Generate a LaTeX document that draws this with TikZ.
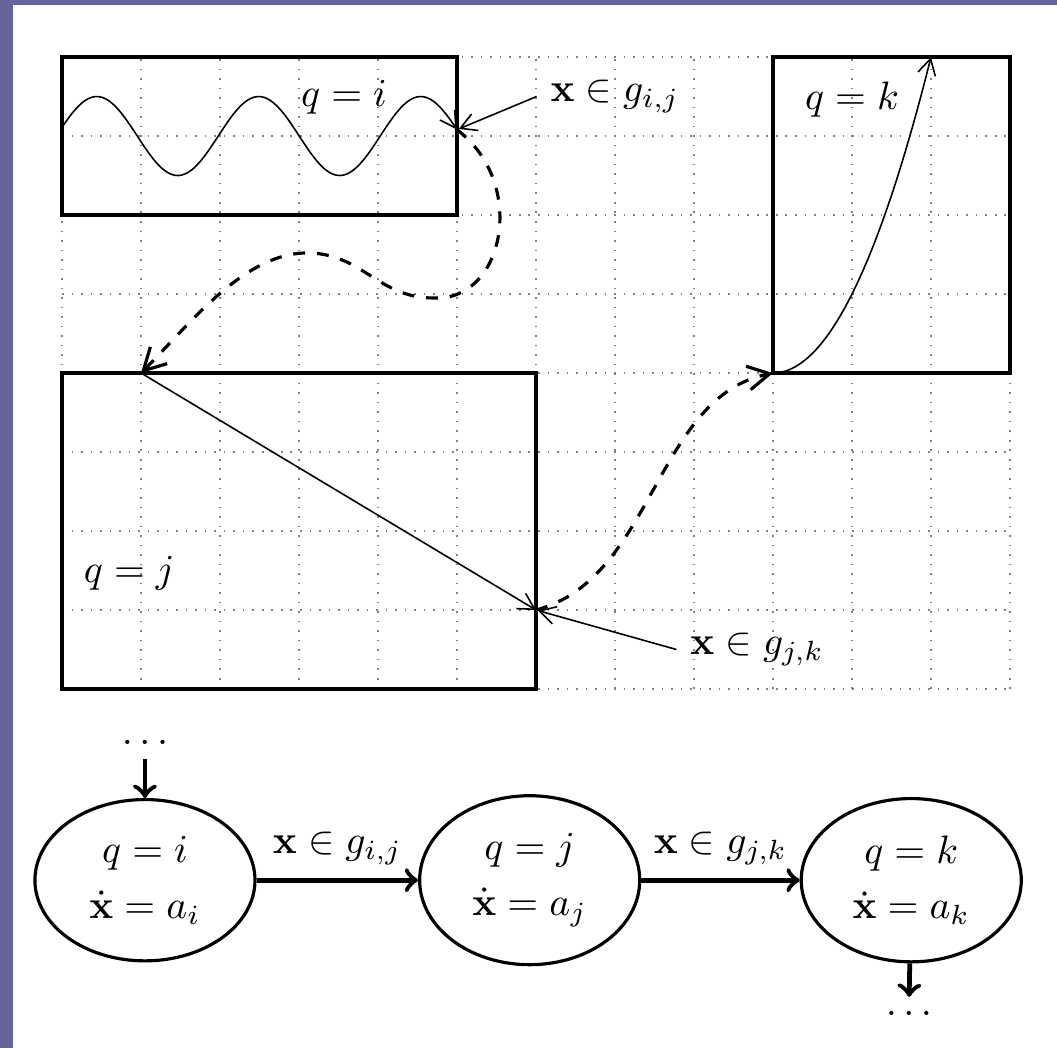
\documentclass[tikz,border=0pt]{standalone}
\usepackage{amsmath}
\usepackage{amssymb}
\usepackage{tikz}
\usepackage{xcolor}
\usetikzlibrary{shapes.geometric, arrows.meta}
\definecolor{framepurple}{RGB}{101,101,155}

\begin{document}
\begin{tikzpicture}[x=0.7cm, y=0.7cm, >={Straight Barb[length=4pt,width=4.5pt]},
  region/.style={thick},
  mode/.style={draw, thick, ellipse, minimum width=1.95cm, minimum height=1.42cm, align=center},
  jump/.style={-{Straight Barb[length=5.5pt,width=6pt]}, thick, dashed},
  switch/.style={-to, very thick}]
% Page size and frame strips
\useasboundingbox (-0.785,-4.544) rectangle (12.595,8.722);
\fill[framepurple] (-0.785,-4.544) rectangle (-0.62,8.722);
\fill[framepurple] (-0.785,8.659) rectangle (12.595,8.722);

% Top part: state space with the three regions
\draw[gray, dotted, step=1] (0,0) grid (12,8);
\draw[region] (0,6) rectangle (5,8);
\draw[region] (0,0) rectangle (6,4);
\draw[region] (9,4) rectangle (12,8);

\node (qilabel) at (3.57,7.49) {$q=i$};
\node (qjlabel) at (0.85,1.47) {$q=j$};
\node (qklabel) at (10,7.46) {$q=k$};

\coordinate (gij) at (5,7.08);
\coordinate (ij) at (1,4);
\coordinate (gjk) at (6,1);
\coordinate (jk) at (9,4);

% Flow inside each mode
\draw[->, domain=0:5, samples=120] plot (\x, {7+0.5*sin(175.6*\x+12.7)});
\draw[->] (ij) -- (gjk);
\draw[->, domain=9:11, samples=60] plot (\x, {4+(\x-9)^2});

% Jumps between modes
\draw[jump] (gij) .. controls (5.9,6.4) and (5.6,4.9) .. (4.7,4.95)
  .. controls (4.0,4.95) and (3.8,5.52) .. (3.1,5.52)
  .. controls (2.3,5.52) and (1.6,4.6) .. (ij);
\draw[jump] (gjk) .. controls (7.5,1.4) and (7.5,3.7) .. (jk);

% Guard labels
\node (gijlabel) at (7,7.5) {$\mathbf{x}\in g_{i,j}$};
\node (gjklabel) at (8.8,0.5) {$\mathbf{x}\in g_{j,k}$};
\draw[->, shorten >=0.5pt] (gijlabel.west) -- (gij);
\draw[->, shorten >=0.5pt] (gjklabel.west) -- (gjk);

% Bottom part: automaton
\node[mode] (qi) at (1.05,-2.42) {$q=i$\\[2pt]$\dot{\mathbf{x}}=a_i$};
\node[mode] (qj) at (5.92,-2.42) {$q=j$\\[2pt]$\dot{\mathbf{x}}=a_j$};
\node[mode] (qk) at (10.75,-2.42) {$q=k$\\[2pt]$\dot{\mathbf{x}}=a_k$};

\node (dotsin) at (1.05,-0.68) {$\ldots$};
\node (dotsout) at (10.72,-4.10) {$\ldots$};

\draw[switch] (dotsin) -- (qi);
\draw[switch] (qi) -- node[above] (edgeij) {$\mathbf{x}\in g_{i,j}$} (qj);
\draw[switch] (qj) -- node[above] (edgejk) {$\mathbf{x}\in g_{j,k}$} (qk);
\draw[switch] (qk) -- (dotsout);
\end{tikzpicture}
\end{document}
